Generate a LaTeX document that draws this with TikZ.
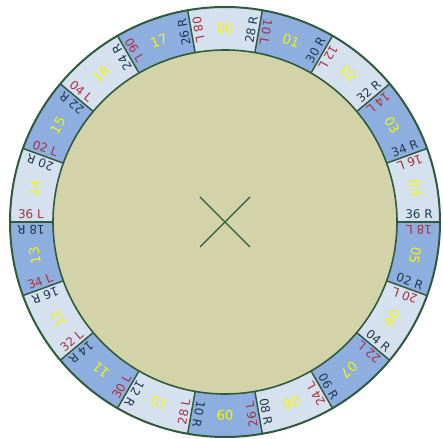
\documentclass[tikz,border=0pt]{standalone}
\usepackage{fontspec}
\setmainfont{DejaVu Sans}
\usepackage{xcolor}
\usepackage{tikz}
\usetikzlibrary{calc}
\definecolor{rlight}{HTML}{D6E1F0}
\definecolor{rdark}{HTML}{8EAEE0}
\definecolor{rline}{HTML}{2F5A3C}
\definecolor{rfloor}{HTML}{D3D3A9}
\definecolor{rnum}{HTML}{F5F500}
\definecolor{rright}{HTML}{1F3A4F}
\definecolor{rleft}{HTML}{A8323E}
\newcommand{\padnum}[1]{\ifnum#1<10 0\fi#1}

\begin{document}
\begin{tikzpicture}[x=0.75pt,y=0.75pt,
    every node/.style={inner sep=2pt,font=\fontsize{9}{9}\selectfont},
    secnum/.style={text=rnum,font=\fontsize{10}{10}\selectfont},
    rlabel/.style={text=rright,anchor=south},
    llabel/.style={text=rleft,anchor=south}]
  \useasboundingbox (0,0) rectangle (443,439);
  \coordinate (c) at (225,217);
  \fill[rlight] (c) circle[radius=215];
  \foreach \k in {1,3,...,17}{
    \pgfmathsetmacro{\a}{100-20*\k}
    \pgfmathsetmacro{\b}{80-20*\k}
    \fill[rdark] (c) -- ($(c)+(\a:215)$) arc[start angle=\a,end angle=\b,radius=215] -- cycle;
  }
  \draw[rline,line width=1.5pt] (c) circle[radius=215];
  \filldraw[fill=rfloor,draw=rline,line width=1.2pt] (c) circle[radius=172];
  \foreach \j in {0,...,17}{
    \pgfmathsetmacro{\b}{80-20*\j}
    \pgfmathtruncatemacro{\rn}{mod(26+2*\j,36)+2}
    \pgfmathtruncatemacro{\ln}{mod(8+2*\j,36)+2}
    \draw[rline,line width=1.1pt] ($(c)+(\b:172)$) -- ($(c)+(\b:215)$);
    \node[rlabel,rotate=\b] (r\j) at ($(c)+(\b:194)$) {\padnum{\rn} R};
    \node[llabel,rotate=\b+180] (l\j) at ($(c)+(\b:194)$) {\padnum{\ln} L};
  }
  \foreach \k in {0,...,17}{
    \pgfmathsetmacro{\m}{90-20*\k}
    \node[secnum,rotate=\m-90] (s\k) at ($(c)+(\m:193)$) {\padnum{\k}};
  }
  \draw[rline,line width=0.9pt] ($(c)+(-25,-25)$) -- ($(c)+(25,25)$)
    ($(c)+(-25,25)$) -- ($(c)+(25,-25)$);
\end{tikzpicture}
\end{document}
